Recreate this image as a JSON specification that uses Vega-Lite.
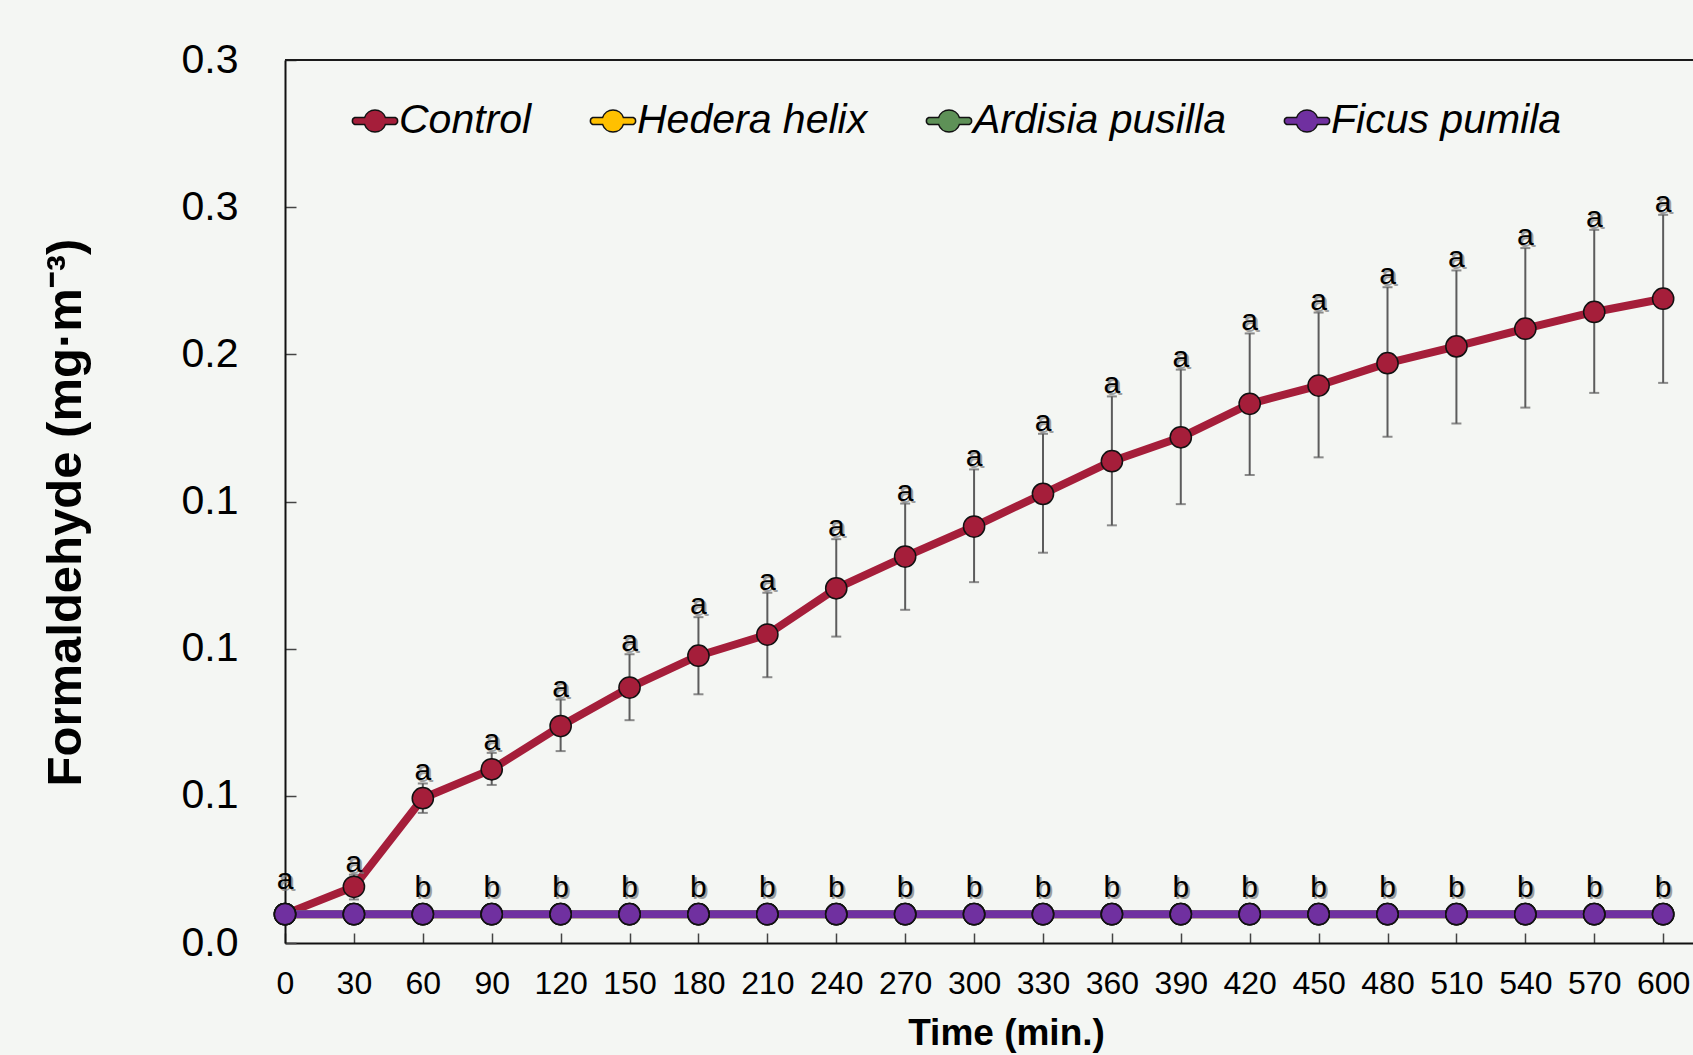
{
  "$schema": "https://vega.github.io/schema/vega-lite/v6.json",
  "width": 1408,
  "height": 883,
  "autosize": {"type": "none"},
  "padding": {"left": 285, "top": 60, "right": 0, "bottom": 112},
  "background": "#f4f6f3",
  "config": {"view": {"stroke": null}, "font": "Liberation Sans"},
  "datasets": {
    "series": [
      {"series": "Control", "ord": 0, "time": 0, "mean": 0.0098, "lo": 0.0098, "hi": 0.0098},
      {"series": "Control", "ord": 0, "time": 30, "mean": 0.0191, "lo": 0.0148, "hi": 0.0232},
      {"series": "Control", "ord": 0, "time": 60, "mean": 0.0492, "lo": 0.0442, "hi": 0.0542},
      {"series": "Control", "ord": 0, "time": 90, "mean": 0.0590, "lo": 0.0537, "hi": 0.0646},
      {"series": "Control", "ord": 0, "time": 120, "mean": 0.0737, "lo": 0.0652, "hi": 0.0827},
      {"series": "Control", "ord": 0, "time": 150, "mean": 0.0868, "lo": 0.0757, "hi": 0.0981},
      {"series": "Control", "ord": 0, "time": 180, "mean": 0.0976, "lo": 0.0845, "hi": 0.1107},
      {"series": "Control", "ord": 0, "time": 210, "mean": 0.1048, "lo": 0.0903, "hi": 0.1190},
      {"series": "Control", "ord": 0, "time": 240, "mean": 0.1205, "lo": 0.1041, "hi": 0.1372},
      {"series": "Control", "ord": 0, "time": 270, "mean": 0.1313, "lo": 0.1132, "hi": 0.1493},
      {"series": "Control", "ord": 0, "time": 300, "mean": 0.1415, "lo": 0.1226, "hi": 0.1609},
      {"series": "Control", "ord": 0, "time": 330, "mean": 0.1526, "lo": 0.1326, "hi": 0.1730},
      {"series": "Control", "ord": 0, "time": 360, "mean": 0.1637, "lo": 0.1419, "hi": 0.1857},
      {"series": "Control", "ord": 0, "time": 390, "mean": 0.1718, "lo": 0.1491, "hi": 0.1948},
      {"series": "Control", "ord": 0, "time": 420, "mean": 0.1832, "lo": 0.1590, "hi": 0.2071},
      {"series": "Control", "ord": 0, "time": 450, "mean": 0.1894, "lo": 0.1650, "hi": 0.2142},
      {"series": "Control", "ord": 0, "time": 480, "mean": 0.1970, "lo": 0.1720, "hi": 0.2228},
      {"series": "Control", "ord": 0, "time": 510, "mean": 0.2027, "lo": 0.1765, "hi": 0.2285},
      {"series": "Control", "ord": 0, "time": 540, "mean": 0.2087, "lo": 0.1819, "hi": 0.2361},
      {"series": "Control", "ord": 0, "time": 570, "mean": 0.2144, "lo": 0.1869, "hi": 0.2423},
      {"series": "Control", "ord": 0, "time": 600, "mean": 0.2189, "lo": 0.1903, "hi": 0.2474},
      {"series": "Hedera helix", "ord": 1, "time": 0, "mean": 0.0098, "lo": 0.0098, "hi": 0.0098},
      {"series": "Hedera helix", "ord": 1, "time": 30, "mean": 0.0098, "lo": 0.0098, "hi": 0.0098},
      {"series": "Hedera helix", "ord": 1, "time": 60, "mean": 0.0098, "lo": 0.0098, "hi": 0.0098},
      {"series": "Hedera helix", "ord": 1, "time": 90, "mean": 0.0098, "lo": 0.0098, "hi": 0.0098},
      {"series": "Hedera helix", "ord": 1, "time": 120, "mean": 0.0098, "lo": 0.0098, "hi": 0.0098},
      {"series": "Hedera helix", "ord": 1, "time": 150, "mean": 0.0098, "lo": 0.0098, "hi": 0.0098},
      {"series": "Hedera helix", "ord": 1, "time": 180, "mean": 0.0098, "lo": 0.0098, "hi": 0.0098},
      {"series": "Hedera helix", "ord": 1, "time": 210, "mean": 0.0098, "lo": 0.0098, "hi": 0.0098},
      {"series": "Hedera helix", "ord": 1, "time": 240, "mean": 0.0098, "lo": 0.0098, "hi": 0.0098},
      {"series": "Hedera helix", "ord": 1, "time": 270, "mean": 0.0098, "lo": 0.0098, "hi": 0.0098},
      {"series": "Hedera helix", "ord": 1, "time": 300, "mean": 0.0098, "lo": 0.0098, "hi": 0.0098},
      {"series": "Hedera helix", "ord": 1, "time": 330, "mean": 0.0098, "lo": 0.0098, "hi": 0.0098},
      {"series": "Hedera helix", "ord": 1, "time": 360, "mean": 0.0098, "lo": 0.0098, "hi": 0.0098},
      {"series": "Hedera helix", "ord": 1, "time": 390, "mean": 0.0098, "lo": 0.0098, "hi": 0.0098},
      {"series": "Hedera helix", "ord": 1, "time": 420, "mean": 0.0098, "lo": 0.0098, "hi": 0.0098},
      {"series": "Hedera helix", "ord": 1, "time": 450, "mean": 0.0098, "lo": 0.0098, "hi": 0.0098},
      {"series": "Hedera helix", "ord": 1, "time": 480, "mean": 0.0098, "lo": 0.0098, "hi": 0.0098},
      {"series": "Hedera helix", "ord": 1, "time": 510, "mean": 0.0098, "lo": 0.0098, "hi": 0.0098},
      {"series": "Hedera helix", "ord": 1, "time": 540, "mean": 0.0098, "lo": 0.0098, "hi": 0.0098},
      {"series": "Hedera helix", "ord": 1, "time": 570, "mean": 0.0098, "lo": 0.0098, "hi": 0.0098},
      {"series": "Hedera helix", "ord": 1, "time": 600, "mean": 0.0098, "lo": 0.0098, "hi": 0.0098},
      {"series": "Ardisia pusilla", "ord": 2, "time": 0, "mean": 0.0098, "lo": 0.0098, "hi": 0.0098},
      {"series": "Ardisia pusilla", "ord": 2, "time": 30, "mean": 0.0098, "lo": 0.0098, "hi": 0.0098},
      {"series": "Ardisia pusilla", "ord": 2, "time": 60, "mean": 0.0098, "lo": 0.0098, "hi": 0.0098},
      {"series": "Ardisia pusilla", "ord": 2, "time": 90, "mean": 0.0098, "lo": 0.0098, "hi": 0.0098},
      {"series": "Ardisia pusilla", "ord": 2, "time": 120, "mean": 0.0098, "lo": 0.0098, "hi": 0.0098},
      {"series": "Ardisia pusilla", "ord": 2, "time": 150, "mean": 0.0098, "lo": 0.0098, "hi": 0.0098},
      {"series": "Ardisia pusilla", "ord": 2, "time": 180, "mean": 0.0098, "lo": 0.0098, "hi": 0.0098},
      {"series": "Ardisia pusilla", "ord": 2, "time": 210, "mean": 0.0098, "lo": 0.0098, "hi": 0.0098},
      {"series": "Ardisia pusilla", "ord": 2, "time": 240, "mean": 0.0098, "lo": 0.0098, "hi": 0.0098},
      {"series": "Ardisia pusilla", "ord": 2, "time": 270, "mean": 0.0098, "lo": 0.0098, "hi": 0.0098},
      {"series": "Ardisia pusilla", "ord": 2, "time": 300, "mean": 0.0098, "lo": 0.0098, "hi": 0.0098},
      {"series": "Ardisia pusilla", "ord": 2, "time": 330, "mean": 0.0098, "lo": 0.0098, "hi": 0.0098},
      {"series": "Ardisia pusilla", "ord": 2, "time": 360, "mean": 0.0098, "lo": 0.0098, "hi": 0.0098},
      {"series": "Ardisia pusilla", "ord": 2, "time": 390, "mean": 0.0098, "lo": 0.0098, "hi": 0.0098},
      {"series": "Ardisia pusilla", "ord": 2, "time": 420, "mean": 0.0098, "lo": 0.0098, "hi": 0.0098},
      {"series": "Ardisia pusilla", "ord": 2, "time": 450, "mean": 0.0098, "lo": 0.0098, "hi": 0.0098},
      {"series": "Ardisia pusilla", "ord": 2, "time": 480, "mean": 0.0098, "lo": 0.0098, "hi": 0.0098},
      {"series": "Ardisia pusilla", "ord": 2, "time": 510, "mean": 0.0098, "lo": 0.0098, "hi": 0.0098},
      {"series": "Ardisia pusilla", "ord": 2, "time": 540, "mean": 0.0098, "lo": 0.0098, "hi": 0.0098},
      {"series": "Ardisia pusilla", "ord": 2, "time": 570, "mean": 0.0098, "lo": 0.0098, "hi": 0.0098},
      {"series": "Ardisia pusilla", "ord": 2, "time": 600, "mean": 0.0098, "lo": 0.0098, "hi": 0.0098},
      {"series": "Ficus pumila", "ord": 3, "time": 0, "mean": 0.0098, "lo": 0.0098, "hi": 0.0098},
      {"series": "Ficus pumila", "ord": 3, "time": 30, "mean": 0.0098, "lo": 0.0098, "hi": 0.0098},
      {"series": "Ficus pumila", "ord": 3, "time": 60, "mean": 0.0098, "lo": 0.0098, "hi": 0.0098},
      {"series": "Ficus pumila", "ord": 3, "time": 90, "mean": 0.0098, "lo": 0.0098, "hi": 0.0098},
      {"series": "Ficus pumila", "ord": 3, "time": 120, "mean": 0.0098, "lo": 0.0098, "hi": 0.0098},
      {"series": "Ficus pumila", "ord": 3, "time": 150, "mean": 0.0098, "lo": 0.0098, "hi": 0.0098},
      {"series": "Ficus pumila", "ord": 3, "time": 180, "mean": 0.0098, "lo": 0.0098, "hi": 0.0098},
      {"series": "Ficus pumila", "ord": 3, "time": 210, "mean": 0.0098, "lo": 0.0098, "hi": 0.0098},
      {"series": "Ficus pumila", "ord": 3, "time": 240, "mean": 0.0098, "lo": 0.0098, "hi": 0.0098},
      {"series": "Ficus pumila", "ord": 3, "time": 270, "mean": 0.0098, "lo": 0.0098, "hi": 0.0098},
      {"series": "Ficus pumila", "ord": 3, "time": 300, "mean": 0.0098, "lo": 0.0098, "hi": 0.0098},
      {"series": "Ficus pumila", "ord": 3, "time": 330, "mean": 0.0098, "lo": 0.0098, "hi": 0.0098},
      {"series": "Ficus pumila", "ord": 3, "time": 360, "mean": 0.0098, "lo": 0.0098, "hi": 0.0098},
      {"series": "Ficus pumila", "ord": 3, "time": 390, "mean": 0.0098, "lo": 0.0098, "hi": 0.0098},
      {"series": "Ficus pumila", "ord": 3, "time": 420, "mean": 0.0098, "lo": 0.0098, "hi": 0.0098},
      {"series": "Ficus pumila", "ord": 3, "time": 450, "mean": 0.0098, "lo": 0.0098, "hi": 0.0098},
      {"series": "Ficus pumila", "ord": 3, "time": 480, "mean": 0.0098, "lo": 0.0098, "hi": 0.0098},
      {"series": "Ficus pumila", "ord": 3, "time": 510, "mean": 0.0098, "lo": 0.0098, "hi": 0.0098},
      {"series": "Ficus pumila", "ord": 3, "time": 540, "mean": 0.0098, "lo": 0.0098, "hi": 0.0098},
      {"series": "Ficus pumila", "ord": 3, "time": 570, "mean": 0.0098, "lo": 0.0098, "hi": 0.0098},
      {"series": "Ficus pumila", "ord": 3, "time": 600, "mean": 0.0098, "lo": 0.0098, "hi": 0.0098}
    ],
    "letters": [
      {"time": 0, "letter": "a", "y": 0.0172},
      {"time": 30, "letter": "a", "y": 0.0232},
      {"time": 60, "letter": "a", "y": 0.0542},
      {"time": 90, "letter": "a", "y": 0.0646},
      {"time": 120, "letter": "a", "y": 0.0827},
      {"time": 150, "letter": "a", "y": 0.0981},
      {"time": 180, "letter": "a", "y": 0.1107},
      {"time": 210, "letter": "a", "y": 0.1190},
      {"time": 240, "letter": "a", "y": 0.1372},
      {"time": 270, "letter": "a", "y": 0.1493},
      {"time": 300, "letter": "a", "y": 0.1609},
      {"time": 330, "letter": "a", "y": 0.1730},
      {"time": 360, "letter": "a", "y": 0.1857},
      {"time": 390, "letter": "a", "y": 0.1948},
      {"time": 420, "letter": "a", "y": 0.2071},
      {"time": 450, "letter": "a", "y": 0.2142},
      {"time": 480, "letter": "a", "y": 0.2228},
      {"time": 510, "letter": "a", "y": 0.2285},
      {"time": 540, "letter": "a", "y": 0.2361},
      {"time": 570, "letter": "a", "y": 0.2423},
      {"time": 600, "letter": "a", "y": 0.2474},
      {"time": 60, "letter": "b", "y": 0.0147},
      {"time": 90, "letter": "b", "y": 0.0147},
      {"time": 120, "letter": "b", "y": 0.0147},
      {"time": 150, "letter": "b", "y": 0.0147},
      {"time": 180, "letter": "b", "y": 0.0147},
      {"time": 210, "letter": "b", "y": 0.0147},
      {"time": 240, "letter": "b", "y": 0.0147},
      {"time": 270, "letter": "b", "y": 0.0147},
      {"time": 300, "letter": "b", "y": 0.0147},
      {"time": 330, "letter": "b", "y": 0.0147},
      {"time": 360, "letter": "b", "y": 0.0147},
      {"time": 390, "letter": "b", "y": 0.0147},
      {"time": 420, "letter": "b", "y": 0.0147},
      {"time": 450, "letter": "b", "y": 0.0147},
      {"time": 480, "letter": "b", "y": 0.0147},
      {"time": 510, "letter": "b", "y": 0.0147},
      {"time": 540, "letter": "b", "y": 0.0147},
      {"time": 570, "letter": "b", "y": 0.0147},
      {"time": 600, "letter": "b", "y": 0.0147}
    ]
  },
  "layer": [
    {
      "data": {"name": "series"},
      "mark": {"type": "rule", "color": "#1a1a1a", "strokeWidth": 2},
      "encoding": {"y": {"datum": 0.3, "type": "quantitative", "title": "Formaldehyde (mg·m⁻³)"}}
    },
    {
      "data": {"name": "series"},
      "transform": [{"filter": "datum.series === 'Control'"}],
      "mark": {"type": "errorbar", "ticks": {"size": 10, "thickness": 2, "color": "#5c5c5c"}, "rule": {"strokeWidth": 2, "color": "#5c5c5c"}},
      "encoding": {
        "x": {"field": "time", "type": "quantitative", "title": "Time (min.)"},
        "y": {"field": "lo", "type": "quantitative", "title": "Formaldehyde (mg·m⁻³)"},
        "y2": {"field": "hi"}
      }
    },
    {
      "data": {"name": "series"},
      "mark": {"type": "line", "strokeWidth": 8, "strokeCap": "round", "strokeJoin": "round"},
      "encoding": {
        "x": {
          "field": "time", "type": "quantitative", "title": "Time (min.)",
          "scale": {"domain": [0, 613], "nice": false, "zero": false},
          "axis": {
            "values": [0, 30, 60, 90, 120, 150, 180, 210, 240, 270, 300, 330, 360, 390, 420, 450, 480, 510, 540, 570, 600],
            "format": "d", "grid": false,
            "labelFont": "Liberation Sans", "labelFontSize": 32, "labelColor": "#000",
            "labelBaseline": "alphabetic", "labelPadding": 60, "labelFlush": false, "labelOverlap": false, "labelBound": false,
            "tickSize": -10, "tickColor": "#444", "tickWidth": 1.5,
            "domainColor": "#111", "domainWidth": 2,
            "titleFont": "Liberation Sans", "titleFontSize": 37, "titleFontWeight": "bold", "titleColor": "#000",
            "titleX": 721, "titleY": 101, "titleBaseline": "alphabetic", "titleAlign": "center", "titleAnchor": null
          }
        },
        "y": {
          "field": "mean", "type": "quantitative", "title": "Formaldehyde (mg·m⁻³)",
          "scale": {"domain": [0, 0.3], "nice": false, "zero": true},
          "axis": {
            "values": [0, 0.05, 0.1, 0.15, 0.2, 0.25, 0.3],
            "format": ".1f", "grid": false,
            "labelFont": "Liberation Sans", "labelFontSize": 41, "labelColor": "#000",
            "labelPadding": 58, "labelFlush": false, "labelOverlap": false, "labelBound": false,
            "tickSize": -11, "tickColor": "#444", "tickWidth": 1.5,
            "domainColor": "#111", "domainWidth": 2,
            "titleFont": "Liberation Sans", "titleFontSize": 49, "titleFontWeight": "bold", "titleColor": "#000",
            "titleX": -205, "titleY": 452, "titleAngle": -90, "titleBaseline": "alphabetic", "titleAlign": "center", "titleAnchor": null
          }
        },
        "stroke": {
          "field": "series", "type": "nominal",
          "scale": {"range": ["#5e9157", "#a51e3a", "#7030a0", "#ffc000"]},
          "legend": null
        }
      }
    },
    {
      "data": {"name": "series"},
      "mark": {"type": "point", "filled": true, "size": 450, "stroke": "#111", "strokeWidth": 1.5, "opacity": 1},
      "encoding": {
        "x": {"field": "time", "type": "quantitative", "title": "Time (min.)"},
        "y": {"field": "mean", "type": "quantitative", "title": "Formaldehyde (mg·m⁻³)"},
        "fill": {
          "field": "series", "type": "nominal", "sort": {"field": "ord", "op": "min"},
          "scale": {"range": ["#a51e3a", "#ffc000", "#5e9157", "#7030a0"]},
          "legend": {
            "orient": "none", "legendX": 66, "legendY": 37, "direction": "horizontal", "title": null, "padding": 0,
            "symbolType": "M-0.88,-0.15H-0.452A0.475,0.475 0 0,1 0.452,-0.15H0.88A0.16,0.16 0 0,1 0.88,0.15H0.452A0.475,0.475 0 0,1 -0.452,0.15H-0.88A0.16,0.16 0 0,1 -0.88,-0.15Z",
            "symbolSize": 2116, "symbolStrokeWidth": 1.5, "symbolOpacity": 1,
            "labelFont": "Liberation Sans", "labelFontSize": 41, "labelFontStyle": "italic", "labelColor": "#000", "labelOffset": 0, "labelLimit": 500,
            "columnPadding": 55, "zindex": 1,
            "encode": {
              "labels": {"update": {"fontStyle": {"signal": "datum.value === 'Control' ? 'normal' : 'italic'"}}}
            }
          }
        }
      }
    },
    {
      "data": {"name": "letters"},
      "mark": {"type": "text", "font": "Liberation Sans", "fontSize": 30, "baseline": "alphabetic", "align": "center", "dx": 2, "dy": -1, "color": "#7a7a7a", "opacity": 0.7},
      "encoding": {
        "x": {"field": "time", "type": "quantitative", "title": "Time (min.)"},
        "y": {"field": "y", "type": "quantitative", "title": "Formaldehyde (mg·m⁻³)"},
        "text": {"field": "letter"}
      }
    },
    {
      "data": {"name": "letters"},
      "mark": {"type": "text", "font": "Liberation Sans", "fontSize": 30, "baseline": "alphabetic", "align": "center", "dy": -3, "color": "#000"},
      "encoding": {
        "x": {"field": "time", "type": "quantitative", "title": "Time (min.)"},
        "y": {"field": "y", "type": "quantitative", "title": "Formaldehyde (mg·m⁻³)"},
        "text": {"field": "letter"}
      }
    }
  ]
}
